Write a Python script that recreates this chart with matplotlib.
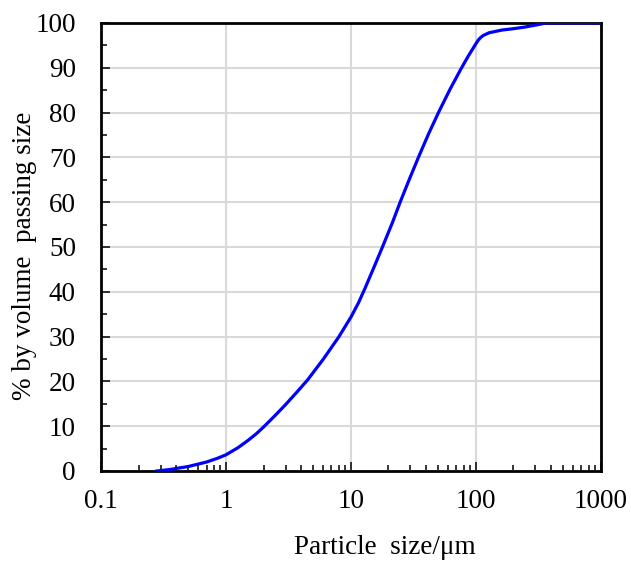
import matplotlib
matplotlib.use('Agg')
import matplotlib.pyplot as plt
import numpy as np
from matplotlib.ticker import LogLocator, MultipleLocator, FixedLocator

# particle size distribution
size_um = [0.28, 0.35, 0.5, 0.7, 0.85, 1, 1.25, 1.5, 1.75, 2, 2.5, 3, 3.7, 4.5, 6, 8,
           10, 11.5, 13, 15.5, 18.1, 21.5, 24.9, 29.5, 35, 42, 50.5, 62, 76, 88,
           100, 105, 110, 115, 128, 162, 200, 251, 300, 370, 1000]
passing = [0, 0.3, 1.0, 2.0, 2.8, 3.6, 5.2, 6.8, 8.3, 9.8, 12.5, 14.8, 17.6, 20.3, 24.9, 29.9,
           34.3, 37.5, 40.8, 45.8, 50.3, 55.4, 60.1, 65.2, 70.2, 75.3, 80.1, 85.1, 89.7, 92.8,
           95.3, 96.2, 96.8, 97.2, 97.8, 98.4, 98.7, 99.1, 99.5, 100, 100]

x_ticks = [0.1, 1, 10, 100, 1000]
x_ticklabels = ['0.1', '1', '10', '100', '1000']

plt.rcParams['font.family'] = ['Liberation Serif', 'DejaVu Serif']

fig = plt.figure(figsize=(6.31, 5.72), dpi=100, facecolor='w')
ax = fig.add_axes([0.160, 0.1766, 0.792, 0.7834])

ax.plot(size_um, passing, color='#0000ff', lw=2.3, solid_joinstyle='round', zorder=3)

ax.set_xscale('log')
ax.set_xlim(0.1, 1000)
ax.set_ylim(0, 100)

ax.xaxis.set_major_locator(FixedLocator(x_ticks))
ax.set_xticklabels(x_ticklabels)
ax.xaxis.set_minor_locator(LogLocator(base=10, subs=np.arange(2, 10)))
ax.xaxis.set_minor_formatter(plt.NullFormatter())
ax.yaxis.set_major_locator(MultipleLocator(10))
ax.yaxis.set_minor_locator(MultipleLocator(5))

ax.grid(True, which='major', color='#d9d9d9', lw=1.5, zorder=0)
ax.set_axisbelow(True)

ax.tick_params(which='major', direction='in', length=6.5, width=1.1, labelsize=19.5, color='k')
ax.tick_params(which='minor', direction='in', length=4.5, width=1.1, color='k')
ax.tick_params(axis='x', which='major', pad=13)
ax.tick_params(axis='y', which='major', pad=18)

for s in ax.spines.values():
    s.set_linewidth(2.0)
    s.set_color('k')

ax.set_xlabel('Particle  size/\u03bcm', fontsize=19.5)
ax.set_ylabel('% by volume  passing size', fontsize=19.5)
ax.xaxis.set_label_coords(0.568, -0.143)
ax.yaxis.set_label_coords(-0.128, 0.48)

fig.savefig('out.png', dpi=100)
